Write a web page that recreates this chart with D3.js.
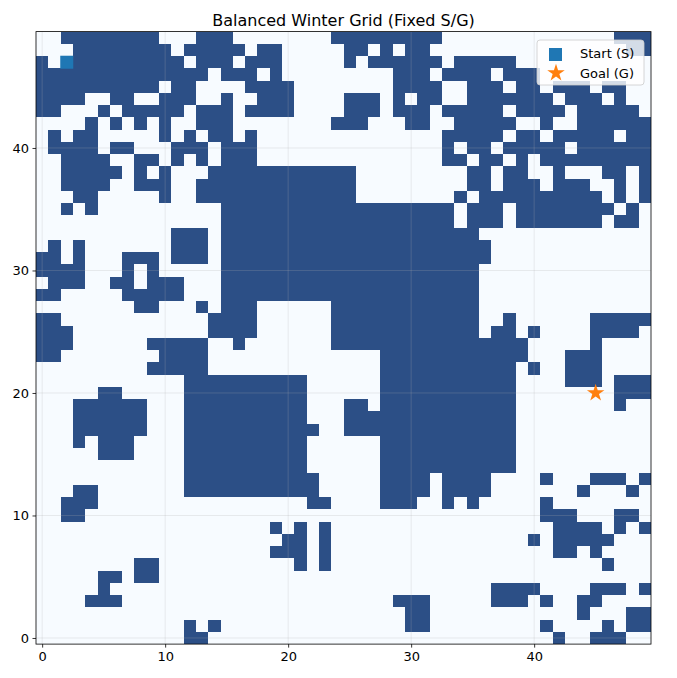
<!DOCTYPE html>
<html>
<head>
<meta charset="utf-8">
<script src="https://cdn.jsdelivr.net/npm/d3@7/dist/d3.min.js"></script>
<style>
  body { margin: 0; background: #fff; }
  text { font-family: "DejaVu Sans", sans-serif; }
</style>
</head>
<body>
<svg id="chart" width="677" height="678"></svg>
<script>
// Grid rows, top row (y = 49) first. '#' = blocked cell, '.' = free cell
const gridRows = [
  "..########...###." + ".......#########." + ".............###",
  "...########.#####" + ".##.....##.#.##.." + "..............##",
  "#..#########.###." + "###.....#.######." + "#####...........",
  "##############.##" + "#.#.........###.#" + "###.###.........",
  "##########.##...." + "####........####." + ".###.##.###.##..",
  "####..##..###..#." + ".###....###.#.##." + ".#######.###.#..",
  "##...#.#####.###." + "####....###.###.#" + "####.####.#####.",
  "....#.#.#.#..###." + ".......###...##.." + "#####..#..######",
  ".#.##.....#.#.##." + "#...............#" + "####.##.#####.##",
  ".####.##...###.##" + "#...............#" + ".##.#####.######",
  "..####..##.#.#.##" + "#...............#" + "#.##.#.#########",
  "..#####.#.#...###" + "#########........" + ".##.##..#...##.#",
  "..####..###..####" + "#########........" + ".##.###.###..#.#",
  "...##.....#..####" + "#########........" + "#.##########.#.#",
  "..#.#..........##" + "#################" + ".###.########.#.",
  "...............##" + "#################" + ".###.#######.##.",
  "...........###.##" + "#################" + "##..............",
  ".#.#.......###.##" + "#################" + "###.............",
  "##.#...###.###.##" + "#################" + "###.............",
  "####...#.#.....##" + "#################" + "##..............",
  ".###..##.###...##" + "#################" + "##..............",
  "##.....#####...##" + "#################" + "##..............",
  "........##...#.##" + "#......##########" + "##..............",
  "##............###" + "#......##########" + "##..#......#####",
  "###...........###" + "#......##########" + "##.##.#....####.",
  "###......#####..#" + ".......##########" + "######.....#....",
  "##........####..." + "...........######" + "######...###....",
  ".........#####..." + "...........######" + "#####.#..###....",
  "............#####" + "#####......######" + "#####....###.###",
  ".....##.....#####" + "#####......######" + "#####........###",
  "...######...#####" + "#####...##.######" + "#####........#..",
  "...######...#####" + "#####...#########" + "#####...........",
  "...######...#####" + "######..#########" + "#####...........",
  "...#.###....#####" + "#####......######" + "#####...........",
  ".....###....#####" + "#####......######" + "#####...........",
  "............#####" + "#####......######" + "#####...........",
  "............#####" + "######.....####.#" + "###....#...###.#",
  "...##.......#####" + "######.....####.#" + "###.......#...#.",
  "..###............" + ".....##....###..#" + ".#.....#........",
  "..##............." + "................." + ".......###...##.",
  "................." + "..#.#.#.........." + "........####.#.#",
  "................." + "...##.#.........." + "......#.#####...",
  "................." + "..###.#.........." + "........##.#....",
  "........##......." + "....#.#.........." + "............#...",
  ".....##.##......." + "................." + "................",
  ".....#..........." + "................." + "...####....###.#",
  "....###.........." + "............###.." + "...###.#..##....",
  "................." + ".............##.." + "..........#...##",
  "............#.#.." + ".............##.." + ".......#....#.##",
  "............##..." + "................." + "........#..###.."
];
const xTicks = [0, 10, 20, 30, 40];
const yTicks = [0, 10, 20, 30, 40];
const startCell = [2, 47];
const goalCell = [45, 20];
const legendLabels = ['Start (S)', 'Goal (G)'];
const titleText = 'Balanced Winter Grid (Fixed S/G)';

const FREE_COLOR = '#f7fbff';
const WALL_COLOR = '#2c4f86';
const N = gridRows.length;

const svg = d3.select('#chart');

// Scales: cell centres at integers, image spans -0.5 .. N-0.5
const xScale = d3.scaleLinear().domain([-0.5, N - 0.5]).range([36, 651]);
const yScale = d3.scaleLinear().domain([-0.5, N - 0.5]).range([644.1, 31.6]);

// flatten the grid into cell objects
let cells = [];
gridRows.forEach((row, i) => {
    const y = N - 1 - i;
    row.split('').forEach((ch, x) => {
        if (ch === '#') cells.push({ x: x, y: y });
    });
});

// background (free cells)
svg.append('rect')
    .attr('x', xScale(-0.5))
    .attr('y', yScale(N - 0.5))
    .attr('width', xScale(N - 0.5) - xScale(-0.5))
    .attr('height', yScale(-0.5) - yScale(N - 0.5))
    .attr('fill', FREE_COLOR);

svg.append('g')
    .selectAll('rect')
    .data(cells)
    .join('rect')
    .attr('x', d => xScale(d.x - 0.5))
    .attr('y', d => yScale(d.y + 0.5))
    .attr('width', d => xScale(d.x + 0.5) - xScale(d.x - 0.5))
    .attr('height', d => yScale(d.y - 0.5) - yScale(d.y + 0.5))
    .attr('fill', WALL_COLOR)
    .attr('shape-rendering', 'crispEdges');

// grid lines on top of the image
let grid = svg.append('g').attr('stroke', '#b0b0b0').attr('stroke-opacity', 0.3).attr('stroke-width', 0.8);
grid.selectAll('.vx').data(xTicks).join('line')
    .attr('x1', d => xScale(d)).attr('x2', d => xScale(d))
    .attr('y1', yScale(N - 0.5)).attr('y2', yScale(-0.5));
grid.selectAll('.hy').data(yTicks).join('line')
    .attr('y1', d => yScale(d)).attr('y2', d => yScale(d))
    .attr('x1', xScale(-0.5)).attr('x2', xScale(N - 0.5));

// axes
let xAxis = svg.append('g')
    .attr('transform', `translate(0,${yScale(-0.5)})`)
    .call(d3.axisBottom(xScale).tickValues(xTicks).tickSize(3.5).tickPadding(4.5));
let yAxis = svg.append('g')
    .attr('transform', `translate(${xScale(-0.5)},0)`)
    .call(d3.axisLeft(yScale).tickValues(yTicks).tickSize(3.5).tickPadding(3.5));
[xAxis, yAxis].forEach(a => {
    a.select('.domain').remove();
    a.selectAll('text').attr('font-size', 13).attr('fill', '#000')
        .attr('font-family', '"DejaVu Sans", sans-serif');
    a.selectAll('line').attr('stroke', '#000').attr('stroke-width', 0.8);
});

// spines
svg.append('rect')
    .attr('x', xScale(-0.5)).attr('y', yScale(N - 0.5))
    .attr('width', xScale(N - 0.5) - xScale(-0.5))
    .attr('height', yScale(-0.5) - yScale(N - 0.5))
    .attr('fill', 'none').attr('stroke', '#000').attr('stroke-width', 0.8);

// start / goal markers
svg.append('rect')
    .attr('x', xScale(startCell[0]) - 6.5).attr('y', yScale(startCell[1]) - 6.5)
    .attr('width', 13).attr('height', 13)
    .attr('fill', '#1f77b4');
const star = d3.symbol().type(d3.symbolStar).size(95);
svg.append('path')
    .attr('d', star())
    .attr('transform', `translate(${xScale(goalCell[0])},${yScale(goalCell[1])})`)
    .attr('fill', '#ff7f0e');

// legend
let legend = svg.append('g').attr('transform', 'translate(537,40)');
legend.append('rect')
    .attr('width', 107).attr('height', 45).attr('rx', 3)
    .attr('fill', '#fff').attr('fill-opacity', 0.8)
    .attr('stroke', '#cccccc').attr('stroke-width', 0.8);
legend.append('rect')
    .attr('x', 12).attr('y', 8).attr('width', 13).attr('height', 13)
    .attr('fill', '#1f77b4');
legend.append('path')
    .attr('d', star())
    .attr('transform', 'translate(19,33)')
    .attr('fill', '#ff7f0e');
legend.selectAll('.lab').data(legendLabels).join('text')
    .attr('x', 43).attr('y', (d, i) => 18 + i * 20)
    .attr('font-size', 13)
    .attr('fill', '#000')
    .text(d => d);

// title
svg.append('text')
    .attr('x', (xScale(-0.5) + xScale(N - 0.5)) / 2)
    .attr('y', 26)
    .attr('text-anchor', 'middle')
    .attr('font-size', 16)
    .attr('fill', '#000')
    .text(titleText);
</script>
</body>
</html>
